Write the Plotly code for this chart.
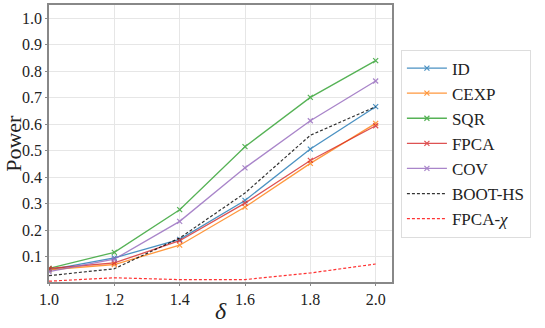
import plotly.graph_objects as go

delta = [1.0, 1.2, 1.4, 1.6, 1.8, 2.0]

power_id = [0.050, 0.095, 0.165, 0.312, 0.506, 0.666]
power_cexp = [0.050, 0.070, 0.143, 0.287, 0.452, 0.603]
power_sqr = [0.055, 0.116, 0.277, 0.515, 0.701, 0.840]
power_fpca = [0.055, 0.076, 0.160, 0.302, 0.463, 0.594]
power_cov = [0.043, 0.090, 0.233, 0.435, 0.613, 0.763]
power_boot = [0.028, 0.054, 0.170, 0.340, 0.558, 0.666]
power_chi = [0.007, 0.020, 0.013, 0.013, 0.038, 0.072]

y_ticks = [0.1, 0.2, 0.3, 0.4, 0.5, 0.6, 0.7, 0.8, 0.9, 1.0]
x_ticks = [1.0, 1.2, 1.4, 1.6, 1.8, 2.0]

FONT = "Liberation Serif"

fig = go.Figure()

solid = [
    ("ID", power_id, "#1f77b4"),
    ("CEXP", power_cexp, "#ff7f0e"),
    ("SQR", power_sqr, "#2ca02c"),
    ("FPCA", power_fpca, "#d62728"),
    ("COV", power_cov, "#9467bd"),
]
for name, vals, col in solid:
    fig.add_trace(go.Scatter(
        x=delta, y=vals, name=name, mode="lines+markers",
        line=dict(color=col, width=1.3),
        marker=dict(symbol="x-thin", size=5, line=dict(color=col, width=1.2)),
        opacity=0.8,
    ))

fig.add_trace(go.Scatter(
    x=delta, y=power_boot, name="BOOT-HS", mode="lines",
    line=dict(color="black", width=1.2, dash="3px,2px"), opacity=0.8,
))
fig.add_trace(go.Scatter(
    x=delta, y=power_chi, name="FPCA-<i>χ</i>", mode="lines",
    line=dict(color="#ff0000", width=1.2, dash="3px,2px"), opacity=0.8,
))

axis_common = dict(
    showgrid=True, gridcolor="#e6e6e6", gridwidth=1,
    showline=True, linecolor="#888888", linewidth=1.5, mirror=True,
    zeroline=False, ticks="outside", ticklen=2, tickcolor="#888888",
    tickfont=dict(family=FONT, size=16, color="#222"), automargin=False,
)

fig.update_layout(
    width=545, height=328,
    margin=dict(l=49, r=153, t=5, b=46),
    paper_bgcolor="white", plot_bgcolor="white",
    font=dict(family=FONT, color="#222"),
    xaxis=dict(range=[1.0, 2.05], tickvals=x_ticks, ticktext=["%.1f" % v for v in x_ticks],
               **axis_common),
    yaxis=dict(range=[0.004, 1.05], tickvals=y_ticks, ticktext=["%.1f" % v for v in y_ticks],
               **axis_common),
    legend=dict(x=1.026, y=0.5, xanchor="left", yanchor="middle",
                bordercolor="#dddddd", borderwidth=1, bgcolor="white",
                font=dict(family=FONT, size=17), tracegroupgap=0,
                itemwidth=40),
    annotations=[
        dict(text="<i>δ</i>", xref="paper", yref="paper", x=0.5, y=-0.105,
             xanchor="center", yanchor="middle", showarrow=False,
             font=dict(family=FONT, size=24, color="#222")),
        dict(text="Power", xref="paper", x=-0.104, yref="paper", y=0.5,
             xanchor="center", yanchor="middle", showarrow=False, textangle=-90,
             font=dict(family=FONT, size=22, color="#222")),
    ],
)

# drop the browser's default 8px body margin so the figure sits at the corner
fig.write_html("out.html", config={"displayModeBar": False},
               post_script="document.body.style.margin='0';document.body.style.overflow='hidden';")
